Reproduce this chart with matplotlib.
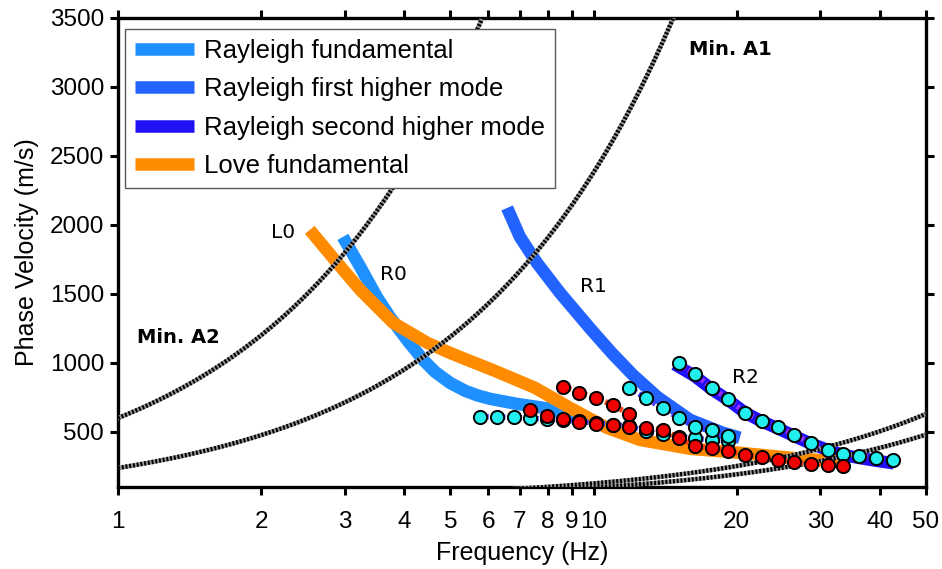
import numpy as np
import matplotlib
matplotlib.use("Agg")
import matplotlib.pyplot as plt

# theoretical dispersion curves (Hz, m/s)
freq_r0 = [2.97, 3.23, 3.50, 3.73, 4.05, 4.38, 4.64, 4.99, 5.37, 5.70, 6.06, 6.89, 8.09, 9.06, 9.5]
vel_r0 = [1913, 1696, 1478, 1333, 1167, 1022, 935, 855, 797, 764, 739, 703, 667, 616, 603]

freq_r1 = [6.58, 7.00, 7.60, 8.50, 9.83, 10.93, 12.1, 13.6, 15.95, 18.7, 20.3]
vel_r1 = [2123, 1913, 1725, 1507, 1250, 1070, 912, 754, 587, 493, 457]

freq_r2 = [14.8, 16.3, 17.7, 19.2, 20.8, 22.5, 24.4, 26.4, 28.6, 31.0, 33.4, 36.3, 39.3, 42.8]
vel_r2 = [990, 905, 810, 730, 640, 578, 525, 470, 415, 370, 333, 310, 290, 272]

freq_l0 = [2.53, 2.89, 3.23, 3.79, 4.47, 4.99, 5.42, 6.20, 7.53, 8.92, 10.67, 12.5, 15.95, 20.3, 25.9, 33.0, 34.1]
vel_l0 = [1964, 1725, 1529, 1290, 1145, 1072, 1022, 942, 819, 674, 529, 442, 377, 348, 312, 283, 268]

# picked phase velocities
obs_r0_f = [5.78, 6.27, 6.79, 7.35, 7.97, 8.64, 9.33, 10.12, 10.97, 11.89, 12.89, 13.97, 15.15, 16.34, 17.72, 19.20]
obs_r0_v = [611, 608, 605, 597, 592, 585, 575, 565, 553, 540, 505, 483, 465, 452, 441, 430]

obs_r1_f = [11.89, 12.89, 13.97, 15.15, 16.34, 17.72, 19.20]
obs_r1_v = [817, 744, 670, 599, 538, 510, 471]

obs_r2_f = [15.15, 16.34, 17.72, 19.20, 20.82, 22.57, 24.39, 26.42, 28.65, 31.06, 33.4, 36.2, 39.3, 42.6]
obs_r2_v = [998, 918, 817, 740, 640, 575, 534, 478, 418, 370, 336, 326, 309, 297]

obs_l0_f = [7.35, 7.97, 8.64, 9.33, 10.12, 10.97, 11.89, 12.89, 13.97, 15.15, 16.34, 17.72,
            19.20, 20.82, 22.57, 24.39, 26.42, 28.65, 31.06, 33.4]
obs_l0_v = [659, 615, 590, 572, 556, 546, 534, 527, 514, 457, 398, 380,
            360, 333, 314, 297, 280, 268, 261, 254]

obs_l0b_f = [8.64, 9.33, 10.12, 10.97, 11.89]
obs_l0b_v = [828, 785, 748, 693, 630]

# wavelength limits (m): v = lambda * f
wavelengths = [600, 238, 12.6, 9.6]

xticks = [1, 2, 3, 4, 5, 6, 7, 8, 9, 10, 20, 30, 40, 50]
yticks = [500, 1000, 1500, 2000, 2500, 3000, 3500]

C_R0 = "#1E90FF"
C_R1 = "#2262FF"
C_R2 = "#2010F5"
C_L0 = "#FF8C00"

SANS = ["Liberation Sans", "DejaVu Sans"]

fig = plt.figure(figsize=(9.42, 5.69), dpi=100)
ax = fig.add_axes([0.1253, 0.1441, 0.8577, 0.8243])

band = dict(lw=9, solid_capstyle="butt", solid_joinstyle="round", zorder=2)
ax.plot(freq_r0, vel_r0, color=C_R0, label="Rayleigh fundamental", **band)
ax.plot(freq_r1, vel_r1, color=C_R1, label="Rayleigh first higher mode", **band)
ax.plot(freq_r2, vel_r2, color=C_R2, label="Rayleigh second higher mode", **band)
ax.plot(freq_l0, vel_l0, color=C_L0, label="Love fundamental", **band)

# wavelength lines, hatched look
fgrid = np.geomspace(1, 50, 400)
for lam in wavelengths:
    ax.plot(fgrid, lam * fgrid, color="0.6", lw=3.2, zorder=3)
    ax.plot(fgrid, lam * fgrid, color="black", lw=3.2, ls=(0, (0.45, 0.4)), zorder=3)

# picked data with hatched connecting lines
hatch = (0, (0.5, 0.5))
for f, v, lc, fc in [(obs_r0_f, obs_r0_v, "#3a3aff", "#22EEEE"),
                     (obs_r1_f, obs_r1_v, "#3a3aff", "#22EEEE"),
                     (obs_r2_f, obs_r2_v, "#9a30ff", "#22EEEE"),
                     (obs_l0_f, obs_l0_v, "#ff3a10", "#F00000"),
                     (obs_l0b_f, obs_l0b_v, "#ff3a10", "#F00000")]:
    ax.plot(f, v, color=lc, lw=4, ls=hatch, zorder=4)
    ax.plot(f, v, ls="none", marker="o", ms=9.5, mfc=fc, mec="black", mew=1.4, zorder=5)

ax.set_xscale("log")
ax.set_xlim(1, 50)
ax.set_ylim(100, 3500)
ax.set_xticks(xticks)
ax.set_xticklabels([str(t) for t in xticks], family=SANS, fontsize=17.5)
ax.minorticks_off()
ax.set_yticks(yticks)
ax.set_yticklabels([str(t) for t in yticks], family=SANS, fontsize=17.5)
ax.tick_params(direction="out", length=6, width=2.2, top=True, right=True)
ax.tick_params(axis="x", pad=11)
ax.tick_params(axis="y", pad=4)
for s in ax.spines.values():
    s.set_linewidth(2.4)

ax.set_xlabel("Frequency (Hz)", family=SANS, fontsize=18, labelpad=6)
ax.set_ylabel("Phase Velocity (m/s)", family=SANS, fontsize=18, labelpad=8)

# mode labels
ax.text(2.22, 1942, "L0", fontsize=14.5, ha="center", va="center", zorder=6)
ax.text(3.79, 1638, "R0", fontsize=14.5, ha="center", va="center", zorder=6)
ax.text(9.97, 1551, "R1", fontsize=14.5, ha="center", va="center", zorder=6)
ax.text(20.9, 891, "R2", fontsize=14.5, ha="center", va="center", zorder=6)
ax.text(19.4, 3268, "Min. A1", fontsize=14, fontweight="bold", ha="center", va="center", zorder=6)
ax.text(1.34, 1181, "Min. A2", fontsize=14, fontweight="bold", ha="center", va="center", zorder=6)

leg = ax.legend(loc="upper left", bbox_to_anchor=(0.0087, 0.9765), prop={"family": SANS, "size": 18.5},
                fancybox=False, framealpha=1, edgecolor="0.35", handlelength=2.3,
                borderpad=0.38, labelspacing=0.56, handletextpad=0.4, borderaxespad=0)
leg.get_frame().set_linewidth(1.0)
leg.set_zorder(10)

fig.savefig("out.png", dpi=100)
